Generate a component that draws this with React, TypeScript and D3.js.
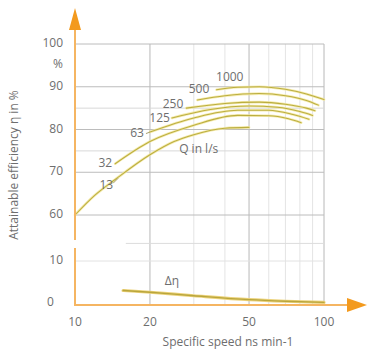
import React from "react";
import * as d3 from "d3";

// ---------- data ----------
const nsTicks = [10, 20, 50, 100];
const nsMinorGrid = [30, 40, 60, 70, 80, 90];
const etaTicks = [60, 70, 80, 90, 100];
const etaMinorGrid = [75, 85];
const dEtaTicks = [0, 10];

const flowLabels = ["13", "32", "63", "125", "250", "500", "1000"];

const curve13: [number, number][] = [[10, 60], [12, 64.6], [14.5, 68.3], [20, 74.1], [25, 77.2], [30, 78.8], [40, 80.3], [50, 80.5]];
const curve32: [number, number][] = [[14.5, 72], [20, 77.2], [30, 81.0], [45, 83.3], [60, 83.2], [72, 82.5], [81, 81.6]];
const curve63: [number, number][] = [[20, 79.4], [30, 82.7], [45, 84.5], [60, 84.5], [75, 83.5], [87, 82.4]];
const curve125: [number, number][] = [[24.5, 82.7], [35, 84.7], [50, 85.5], [65, 85.2], [80, 84.2], [90, 83.3]];
const curve250: [number, number][] = [[28, 85.0], [40, 86.1], [55, 86.4], [70, 85.9], [85, 85.0], [92, 84.4]];
const curve500: [number, number][] = [[31, 86.9], [40, 87.9], [55, 88.4], [70, 87.9], [85, 86.8], [95, 85.7]];
const curve1000: [number, number][] = [[37, 89.3], [45, 89.9], [55, 90.0], [70, 89.4], [85, 88.3], [100, 87.0]];
const curves = [curve13, curve32, curve63, curve125, curve250, curve500, curve1000];

const dEta: [number, number][] = [[15.6, 3.3], [20, 2.9], [30, 2.1], [50, 1.2], [70, 0.85], [100, 0.6]];

const qLabelPos: [number, number] = [26.2, 75.2];
const dEtaLabelPos: [number, number] = [24.5, 5.2];

// ---------- layout ----------
const W = 367, H = 352;
const AXIS = "#f5b562";
const ARROW = "#f39a1e";
const TXT = "#6e6e6e";
const FONT = "'Open Sans', 'Noto Sans', sans-serif";

export default function App() {
  const x = d3.scaleLog().domain([10, 100]).range([75, 324]);
  const yT = d3.scaleLinear().domain([60, 100]).range([215, 44]);
  const yB = d3.scaleLinear().domain([0, 10]).range([305, 261]);

  const lineT = d3.line<[number, number]>().x(d => x(d[0])).y(d => yT(d[1])).curve(d3.curveMonotoneX);
  const lineB = d3.line<[number, number]>().x(d => x(d[0])).y(d => yB(d[1])).curve(d3.curveMonotoneX);

  // label offsets relative to each curve's first point (pixels)
  const labelOff: { dx: number; dy: number; anchor: string; leader?: boolean }[] = [
    { dx: 0, dy: 0, anchor: "end" },
    { dx: -3, dy: 0, anchor: "end" },
    { dx: -6, dy: 2, anchor: "end", leader: true },
    { dx: -2, dy: 1, anchor: "end" },
    { dx: -3, dy: -3, anchor: "end" },
    { dx: 12, dy: -10, anchor: "end" },
    { dx: 27, dy: -12, anchor: "end" },
  ];

  const gridTop = yT(100);
  const gridBottom = yB(0);
  const xEnd = x(100);

  const l13x = x(14.9), l13y = yT(68.6);

  return (
    <svg width={W} height={H} style={{ position: "absolute", left: 0, top: 0, background: "#fff" }} fontFamily={FONT}>
      {/* minor vertical grid */}
      {nsMinorGrid.map(v => (
        <line key={"vm" + v} x1={x(v)} x2={x(v)} y1={gridTop} y2={gridBottom} stroke="#e4e4e4" strokeWidth={1} />
      ))}
      {nsTicks.slice(1).map(v => (
        <line key={"vM" + v} x1={x(v)} x2={x(v)} y1={gridTop} y2={gridBottom} stroke="#b8b8b8" strokeWidth={1} />
      ))}
      {/* horizontal grid upper */}
      {etaMinorGrid.map(v => (
        <line key={"hm" + v} x1={x(10)} x2={xEnd} y1={yT(v)} y2={yT(v)} stroke="#d8d8d8" strokeWidth={1} />
      ))}
      {etaTicks.map(v => (
        <line key={"hM" + v} x1={x(10)} x2={xEnd} y1={yT(v)} y2={yT(v)} stroke="#bcbcbc" strokeWidth={1} />
      ))}
      {/* lower panel grid */}
      <line x1={x(16)} x2={xEnd} y1={yB(14)} y2={yB(14)} stroke="#dcdcdc" strokeWidth={1} />
      <line x1={x(10)} x2={xEnd} y1={yB(10)} y2={yB(10)} stroke="#e2e2e2" strokeWidth={1} />

      {/* curves */}
      {curves.map((c, i) => (
        <g key={"c" + i}>
          <path d={lineT(c) || ""} fill="none" stroke="#f3e7a0" strokeWidth={2.6} strokeLinecap="round" opacity={0.85} />
          <path d={lineT(c) || ""} fill="none" stroke="#bbae40" strokeWidth={1.05} strokeLinecap="round" />
        </g>
      ))}
      {/* Δη curve */}
      <path d={lineB(dEta) || ""} fill="none" stroke="#ecd27a" strokeWidth={3.2} strokeLinecap="round" />
      <path d={lineB(dEta) || ""} fill="none" stroke="#b9a63c" strokeWidth={1.3} strokeLinecap="round" />

      {/* curve labels */}
      {curves.map((c, i) => {
        const o = labelOff[i];
        if (i === 0) {
          return (
            <g key={"l" + i}>
              <line x1={l13x - 5} y1={l13y + 5} x2={l13x} y2={l13y} stroke="#a8a070" strokeWidth={1} />
              <text x={l13x - 5} y={l13y + 8} fontSize={12} fill={TXT} textAnchor="end" dominantBaseline="middle">{flowLabels[i]}</text>
            </g>
          );
        }
        const px = x(c[0][0]);
        const py = yT(c[0][1]);
        return (
          <g key={"l" + i}>
            {o.leader && <line x1={px - 4} y1={py + 1.5} x2={px} y2={py} stroke="#a8a070" strokeWidth={1} />}
            <text x={px + o.dx} y={py + o.dy} fontSize={12} fill={TXT} textAnchor={o.anchor as any} dominantBaseline="middle">{flowLabels[i]}</text>
          </g>
        );
      })}
      <text x={x(qLabelPos[0])} y={yT(qLabelPos[1])} fontSize={12} fill={TXT} dominantBaseline="middle">Q in l/s</text>
      <text x={x(dEtaLabelPos[0])} y={yB(dEtaLabelPos[1])} fontSize={12} fill={TXT} textAnchor="middle" dominantBaseline="middle">Δη</text>

      {/* axes */}
      <line x1={75} x2={75} y1={28} y2={240} stroke={AXIS} strokeWidth={2} />
      <line x1={75} x2={75} y1={248} y2={306} stroke={AXIS} strokeWidth={2} />
      <path d="M75,8 L69,30 L81,30 Z" fill={ARROW} />
      <line x1={74} x2={348} y1={305} y2={305} stroke={AXIS} strokeWidth={2} />
      <path d="M367,305 L347,298 L347,312 Z" fill={ARROW} />

      {/* y tick labels */}
      {etaTicks.map(v => (
        <text key={"yt" + v} x={63} y={yT(v)} fontSize={12} fill={TXT} textAnchor="end" dominantBaseline="middle">{v}</text>
      ))}
      <text x={63} y={65} fontSize={12} fill={TXT} textAnchor="end" dominantBaseline="middle">%</text>
      {dEtaTicks.map(v => (
        <text key={"yb" + v} x={v === 0 ? 47 : 63} y={yB(v) - (v === 0 ? 2 : 0)} fontSize={12} fill={TXT} textAnchor={v === 0 ? "start" : "end"} dominantBaseline="middle">{v}</text>
      ))}

      {/* x tick labels */}
      {nsTicks.map(v => (
        <text key={"xt" + v} x={x(v)} y={323} fontSize={12} fill={TXT} textAnchor="middle" dominantBaseline="middle">{v}</text>
      ))}

      {/* titles */}
      <text x={228} y={343} fontSize={12} fill={TXT} textAnchor="middle" dominantBaseline="middle">Specific speed ns min-1</text>
      <text transform="translate(15,165) rotate(-90)" fontSize={12} fill={TXT} textAnchor="middle" dominantBaseline="middle">Attainable efficiency η in %</text>
    </svg>
  );
}
